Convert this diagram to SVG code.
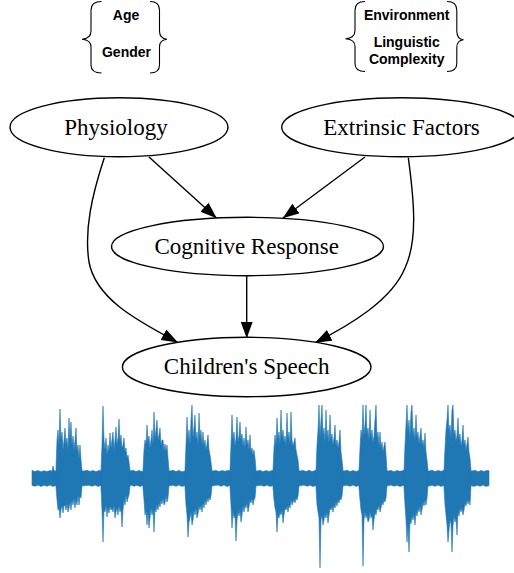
<svg xmlns="http://www.w3.org/2000/svg" width="514" height="573" viewBox="0 0 514 573">
<style>
.node ellipse{fill:#fff;stroke:#000;stroke-width:1.4}
.node text{font-family:"Liberation Serif","Times New Roman",serif;font-size:23px;fill:#000;text-anchor:middle}
.edge{fill:none;stroke:#000;stroke-width:1.4;marker-end:url(#ah)}
.brace{fill:none;stroke:#000;stroke-width:1.1}
.btxt{font-family:"Liberation Sans",Arial,sans-serif;font-size:14px;font-weight:bold;fill:#000;text-anchor:middle}
.wave{fill:#1f77b4;stroke:#1f77b4;stroke-width:0.6;stroke-linejoin:round}
</style>
<defs>
<marker id="ah" markerUnits="userSpaceOnUse" markerWidth="18" markerHeight="14" refX="16.5" refY="6" orient="auto">
<path d="M0,0 L16.5,6 L0,12 Z" fill="#000"/>
</marker>
</defs>

<g id="factors-left">
<path class="brace" d="M101.5,1.5 Q91,1.5 91,10 L91,31 Q91,38.5 82,39.3 Q91,40 91,47 L91,65 Q91,73 101.5,73"/>
<path class="brace" d="M150,1.5 Q159.5,1.5 159.5,10 L159.5,31 Q159.5,38.5 167,39.3 Q159.5,40 159.5,47 L159.5,65 Q159.5,73 150,73"/>
<text class="btxt" x="126" y="20">Age</text>
<text class="btxt" x="126.5" y="56.5">Gender</text>
</g>

<g id="factors-right">
<path class="brace" d="M365,1.5 Q355,1.5 355,10 L355,30.5 Q355,38 345.5,38.8 Q355,39.5 355,46.5 L355,63.5 Q355,71.5 365,71.5"/>
<path class="brace" d="M447,1.5 Q456.8,1.5 456.8,10 L456.8,31 Q456.8,39 463.5,39.8 Q456.8,40.5 456.8,47.5 L456.8,63.5 Q456.8,71.5 447,71.5"/>
<text class="btxt" x="406.7" y="19.5">Environment</text>
<text class="btxt" x="406.7" y="46.5">Linguistic</text>
<text class="btxt" x="406.7" y="63.5">Complexity</text>
</g>

<g id="edges">
<path class="edge" d="M149,157 L216.7,218.3"/>
<path class="edge" d="M365,157 L282.7,218.3"/>
<path class="edge" d="M246.7,276 L246.7,338.3"/>
<path class="edge" d="M104.3,157.7 C92,195 84,230 89,262 C96,300 140,322 178,342.5"/>
<path class="edge" d="M408.3,157.7 C414,200 418,240 405,268 C392,300 350,325 315,342.7"/>
</g>

<g id="physiology" class="node">
<ellipse cx="119" cy="127.2" rx="109" ry="29.5"/>
<text x="116" y="134.5">Physiology</text>
</g>
<g id="extrinsic" class="node">
<ellipse cx="401.5" cy="127.3" rx="119.8" ry="29.5"/>
<text x="401.5" y="134.5">Extrinsic Factors</text>
</g>
<g id="cognitive" class="node">
<ellipse cx="247.5" cy="246.5" rx="136" ry="29.2"/>
<text x="246.7" y="254">Cognitive Response</text>
</g>
<g id="speech" class="node">
<ellipse cx="246.7" cy="367" rx="124.3" ry="29.7"/>
<text x="246.7" y="374.3">Children's Speech</text>
</g>

<g id="waveform">
<polygon class="wave" points="32,470.5 35,471.5 38,470.5 41,471.8 44,470.8 47,471.5 50,470.6 52,471.2 53,466 54,470.5 57,471.5 84,471 87,470.2 90,471.5 93,470.5 96,471.8 99,470.4 102,471 130,471 133,470.2 136,471.6 139,470.5 142,471.5 170,471 173,470.3 176,471.5 179,470.4 182,471.8 185,471 213,471 216,470.4 219,471.6 222,470.5 225,471.2 228,470.4 231,471 257,471 260,470.3 263,471.7 266,470.6 269,471.4 272,470.5 300,471 303,470.4 306,471.6 309,470.3 312,471.5 315,470.6 344,471 347,470.2 350,471.6 353,470.5 356,471.4 359,470.6 388,471 391,470.4 394,471.7 397,470.5 400,471.3 403,470.6 429,471 432,470.3 435,471.6 438,470.5 441,471.2 444,470.6 472,471 475,470.3 478,471.7 481,470.5 484,471.4 487,470.4 489,470.8 489,485.5 486,486.5 483,485 480,486.3 477,485.2 474,486.4 471,485.5 444,485.5 441,486.4 438,485.1 435,486.3 432,485.3 429,486 403,485.5 400,486.5 397,485.2 394,486.2 391,485 388,485.8 359,485.5 356,486.4 353,485 350,486.3 347,485.2 344,485.8 316,485.5 313,486.5 310,485.2 307,486.2 304,485.1 300,485.8 273,485.5 270,486.4 267,485.1 264,486.3 261,485.2 257,485.8 230,485.5 227,486.6 224,485.1 221,486.2 218,485 213,485.8 185,485.5 182,486.4 179,485.1 176,486.3 173,485.2 170,485.8 143,485.5 140,486.5 137,485.2 134,486.3 131,485.1 130,485.8 101,485.5 98,486.4 95,485.1 92,486.3 89,485.2 84,485.8 56,485.5 53,486.4 50,485 47,486.3 44,485.2 41,486.5 38,485.1 35,486.2 32,485.5"/>
<polygon class="wave" points="56,468 57,440 58,430 59,445 60,409 61,440 62,432 63,450 64,440 65,428 66,445 67,438 68,450 69,418 70,440 71,422 72,445 73,436 74,450 75,440 76,428 77,452 78,445 79,458 80,445 81,460 82,470 82,486 81,498 80,496 79,505 78,495 77,505 76,500 75,508 74,498 73,505 72,500 71,510 70,502 69,508 68,512 67,503 66,510 65,505 64,506 63,513 62,505 61,510 60,518 59,508 58,510 57,500 56,488"/>
<polygon class="wave" points="101,470 102,445 103,406 104,440 105,450 106,438 107,455 108,445 109,452 110,433 111,448 112,440 113,432 114,450 115,440 116,427 117,445 118,438 119,419 120,442 121,435 122,448 123,445 124,438 125,452 126,448 127,458 128,455 129,462 130,470 130,486 129,495 128,498 127,502 126,495 125,505 124,500 123,510 122,527 121,508 120,512 119,505 118,515 117,508 116,512 115,518 114,505 113,512 112,508 111,510 110,506 109,513 108,508 107,517 106,505 105,512 104,510 103,542 102,510 101,488"/>
<polygon class="wave" points="143,470 144,450 145,440 146,445 147,425 148,442 149,436 150,448 151,440 152,430 153,445 154,412 155,438 156,430 157,420 158,440 159,435 160,428 161,445 162,440 163,440 164,450 165,444 166,452 167,445 168,458 169,470 169,486 168,498 167,502 166,496 165,503 164,505 163,498 162,504 161,500 160,507 159,503 158,510 157,505 156,512 155,508 154,532 153,510 152,515 151,508 150,518 149,528 148,512 147,525 146,510 145,515 144,500 143,488"/>
<polygon class="wave" points="185,470 186,445 187,417 188,440 189,430 190,445 191,420 192,405 193,438 194,428 195,415 196,440 197,432 198,445 199,413 200,438 201,430 202,445 203,432 204,446 205,440 206,450 207,444 208,435 209,450 210,455 211,462 212,470 212,486 211,496 210,500 209,497 208,502 207,498 206,505 205,500 204,508 203,503 202,512 201,505 200,510 199,506 198,514 197,518 196,508 195,515 194,510 193,520 192,525 191,512 190,518 189,522 188,537 187,515 186,505 185,488"/>
<polygon class="wave" points="230,470 231,445 232,415 233,440 234,432 235,446 236,438 237,417 238,442 239,436 240,422 241,440 242,434 243,446 244,438 245,448 246,427 247,445 248,440 249,450 250,435 251,452 252,448 253,455 254,450 255,458 256,470 256,486 255,498 254,500 253,505 252,498 251,503 250,500 249,507 248,512 247,503 246,508 245,505 244,512 243,506 242,515 241,522 240,510 239,516 238,512 237,520 236,541 235,515 234,518 233,512 232,528 231,505 230,488"/>
<polygon class="wave" points="273,470 274,448 275,435 276,445 277,418 278,440 279,432 280,444 281,410 282,438 283,430 284,442 285,436 286,445 287,413 288,440 289,432 290,445 291,412 292,440 293,446 294,442 295,438 296,450 297,455 298,460 299,470 299,486 298,496 297,500 296,498 295,503 294,500 293,502 292,505 291,500 290,508 289,505 288,512 287,506 286,510 285,508 284,515 283,523 282,510 281,515 280,512 279,518 278,515 277,532 276,512 275,508 274,500 273,488"/>
<polygon class="wave" points="316,470 317,445 318,430 319,405 320,438 321,420 322,405 323,436 324,428 325,442 326,410 327,438 328,430 329,444 330,415 331,440 332,434 333,445 334,438 335,425 336,446 337,440 338,448 339,442 340,430 341,452 342,460 343,470 343,486 342,496 341,500 340,498 339,503 338,500 337,506 336,502 335,508 334,505 333,512 332,506 331,510 330,508 329,515 328,523 327,512 326,518 325,514 324,520 323,525 322,515 321,520 320,568 319,518 318,512 317,505 316,488"/>
<polygon class="wave" points="359,470 360,448 361,430 362,438 363,405 364,436 365,425 366,405 367,435 368,428 369,440 370,410 371,438 372,430 373,442 374,436 375,420 376,405 377,438 378,432 379,446 380,432 381,448 382,442 383,452 384,446 385,442 386,455 387,470 387,486 386,498 385,502 384,500 383,505 382,502 381,508 380,512 379,505 378,510 377,508 376,515 375,512 374,520 373,530 372,515 371,518 370,512 369,520 368,522 367,515 366,518 365,512 364,520 363,566 362,515 361,510 360,500 359,488"/>
<polygon class="wave" points="404,470 405,445 406,425 407,405 408,432 409,420 410,438 411,412 412,405 413,436 414,428 415,440 416,415 417,438 418,432 419,444 420,436 421,428 422,445 423,440 424,448 425,433 426,452 427,460 428,470 428,486 427,498 426,505 425,500 424,506 423,502 422,510 421,515 420,506 419,512 418,508 417,516 416,512 415,525 414,514 413,520 412,516 411,524 410,520 409,552 408,525 407,542 406,520 405,505 404,488"/>
<polygon class="wave" points="444,470 445,448 446,430 447,420 448,405 449,432 450,425 451,438 452,410 453,405 454,436 455,430 456,442 457,435 458,418 459,440 460,434 461,446 462,440 463,425 464,445 465,440 466,450 467,444 468,437 469,452 470,458 471,470 471,486 470,505 469,500 468,504 467,500 466,506 465,503 464,510 463,515 462,508 461,512 460,508 459,516 458,512 457,535 456,518 455,522 454,516 453,526 452,552 451,524 450,520 449,530 448,542 447,525 446,515 445,505 444,488"/>
</g>
</svg>
